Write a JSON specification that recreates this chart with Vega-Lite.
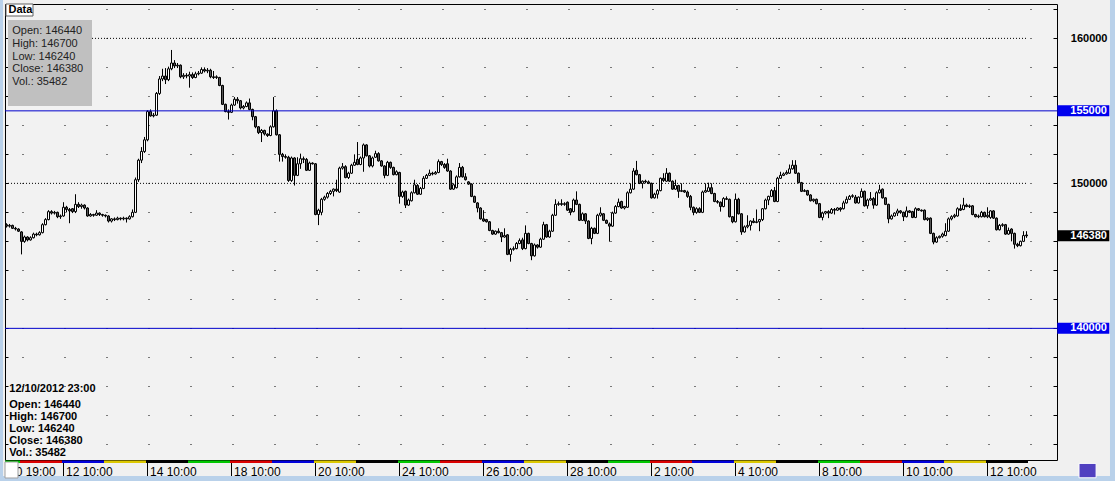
{
"$schema":"https://vega.github.io/schema/vega-lite/v6.json",
"width":1052,"height":456,
"autosize":{"type":"none"},
"padding":{"left":5,"top":4,"right":58,"bottom":21},
"background":"#F0F0F0",
"config":{"view":{"fill":"#F2F2F2","stroke":"#000000","strokeWidth":1},"font":"Liberation Sans","scale":{"continuousPadding":0}},
"resolve":{"axis":{"x":"independent","y":"independent"}},
"data":{"values":[
{"i":0,"o":147150,"h":147250,"l":146950,"c":147050},
{"i":1,"o":147050,"h":147200,"l":146950,"c":147100},
{"i":2,"o":147100,"h":147150,"l":146850,"c":146900},
{"i":3,"o":146900,"h":147000,"l":146750,"c":146850},
{"i":4,"o":146850,"h":146900,"l":146650,"c":146700},
{"i":5,"o":146650,"h":146700,"l":145100,"c":146000},
{"i":6,"o":146000,"h":146400,"l":145900,"c":146300},
{"i":7,"o":146300,"h":146350,"l":146000,"c":146100},
{"i":8,"o":146100,"h":146350,"l":146050,"c":146250},
{"i":9,"o":146250,"h":146600,"l":146200,"c":146500},
{"i":10,"o":146500,"h":146600,"l":146350,"c":146450},
{"i":11,"o":146450,"h":146700,"l":146400,"c":146600},
{"i":12,"o":146600,"h":147250,"l":146550,"c":147150},
{"i":13,"o":147150,"h":147600,"l":147100,"c":147500},
{"i":14,"o":147500,"h":148150,"l":147450,"c":148050},
{"i":15,"o":148050,"h":148150,"l":147850,"c":147950},
{"i":16,"o":147950,"h":148100,"l":147850,"c":148000},
{"i":17,"o":148000,"h":148050,"l":147600,"c":147700},
{"i":18,"o":147700,"h":147850,"l":147550,"c":147750},
{"i":19,"o":147750,"h":148700,"l":147700,"c":148350},
{"i":20,"o":148350,"h":148450,"l":148000,"c":148200},
{"i":21,"o":148200,"h":148300,"l":147250,"c":148100},
{"i":22,"o":148250,"h":148300,"l":147950,"c":148050},
{"i":23,"o":148050,"h":149250,"l":147950,"c":148550},
{"i":24,"o":148550,"h":148700,"l":148300,"c":148400},
{"i":25,"o":148400,"h":148600,"l":148250,"c":148500},
{"i":26,"o":148500,"h":148550,"l":148200,"c":148300},
{"i":27,"o":148300,"h":148350,"l":147700,"c":147750},
{"i":28,"o":147750,"h":147950,"l":147700,"c":147850},
{"i":29,"o":147850,"h":147900,"l":147700,"c":147800},
{"i":30,"o":147800,"h":148150,"l":147750,"c":147950},
{"i":31,"o":147950,"h":148000,"l":147750,"c":147850},
{"i":32,"o":147850,"h":147900,"l":147700,"c":147800},
{"i":33,"o":147800,"h":147850,"l":147650,"c":147750},
{"i":34,"o":147750,"h":147800,"l":147300,"c":147400},
{"i":35,"o":147400,"h":147600,"l":147300,"c":147550},
{"i":36,"o":147550,"h":147650,"l":147400,"c":147500},
{"i":37,"o":147500,"h":147700,"l":147450,"c":147600},
{"i":38,"o":147600,"h":147650,"l":147450,"c":147550},
{"i":39,"o":147550,"h":147700,"l":147450,"c":147600},
{"i":40,"o":147600,"h":147650,"l":147300,"c":147550},
{"i":41,"o":147550,"h":147800,"l":147500,"c":147700},
{"i":42,"o":147700,"h":148200,"l":147650,"c":148000},
{"i":43,"o":148000,"h":150400,"l":147950,"c":150250},
{"i":44,"o":150250,"h":151700,"l":150100,"c":151600},
{"i":45,"o":151600,"h":152500,"l":151400,"c":152200},
{"i":46,"o":152200,"h":153200,"l":152100,"c":153000},
{"i":47,"o":153000,"h":155050,"l":152900,"c":154950},
{"i":48,"o":154950,"h":155100,"l":154600,"c":154650},
{"i":49,"o":154650,"h":154850,"l":154550,"c":154700},
{"i":50,"o":154700,"h":156300,"l":154650,"c":156200},
{"i":51,"o":156200,"h":157400,"l":156100,"c":157200},
{"i":52,"o":157200,"h":157900,"l":157050,"c":157400},
{"i":53,"o":157400,"h":157950,"l":156850,"c":157150},
{"i":54,"o":157150,"h":158050,"l":157050,"c":157900},
{"i":55,"o":157900,"h":159200,"l":157800,"c":158300},
{"i":56,"o":158300,"h":158500,"l":157950,"c":158100},
{"i":57,"o":158100,"h":158300,"l":157950,"c":158150},
{"i":58,"o":158150,"h":158200,"l":157250,"c":157350},
{"i":59,"o":157350,"h":157600,"l":157200,"c":157450},
{"i":60,"o":157450,"h":157600,"l":157250,"c":157400},
{"i":61,"o":157400,"h":157700,"l":156600,"c":157500},
{"i":62,"o":157500,"h":157650,"l":157200,"c":157300},
{"i":63,"o":157300,"h":157700,"l":157250,"c":157550},
{"i":64,"o":157550,"h":157750,"l":157450,"c":157600},
{"i":65,"o":157600,"h":158000,"l":157550,"c":157850},
{"i":66,"o":157850,"h":158000,"l":157650,"c":157750},
{"i":67,"o":157750,"h":157950,"l":157600,"c":157800},
{"i":68,"o":157800,"h":157900,"l":157250,"c":157350},
{"i":69,"o":157350,"h":157750,"l":157200,"c":157300},
{"i":70,"o":157300,"h":157450,"l":157200,"c":157350},
{"i":71,"o":157300,"h":157350,"l":156700,"c":156750},
{"i":72,"o":156750,"h":156800,"l":155400,"c":155450},
{"i":73,"o":155450,"h":155500,"l":154900,"c":154950},
{"i":74,"o":154950,"h":155100,"l":154400,"c":154900},
{"i":75,"o":154900,"h":155500,"l":154850,"c":155400},
{"i":76,"o":155400,"h":155950,"l":155350,"c":155800},
{"i":77,"o":155800,"h":155950,"l":155500,"c":155700},
{"i":78,"o":155700,"h":155750,"l":155100,"c":155200},
{"i":79,"o":155200,"h":155400,"l":155100,"c":155300},
{"i":80,"o":155300,"h":155650,"l":155250,"c":155550},
{"i":81,"o":155550,"h":155850,"l":155050,"c":155100},
{"i":82,"o":155100,"h":155150,"l":154350,"c":154600},
{"i":83,"o":154600,"h":154650,"l":153800,"c":153900},
{"i":84,"o":153900,"h":153950,"l":153400,"c":153500},
{"i":85,"o":153500,"h":153750,"l":152850,"c":153650},
{"i":86,"o":153650,"h":153700,"l":153300,"c":153400},
{"i":87,"o":153400,"h":153450,"l":153200,"c":153300},
{"i":88,"o":153300,"h":154000,"l":153250,"c":153900},
{"i":89,"o":153900,"h":155950,"l":153850,"c":155000},
{"i":90,"o":155000,"h":155100,"l":153300,"c":153350},
{"i":91,"o":153350,"h":153400,"l":151500,"c":152000},
{"i":92,"o":152000,"h":152100,"l":151500,"c":151850},
{"i":93,"o":151850,"h":152000,"l":151700,"c":151800},
{"i":94,"o":151800,"h":151900,"l":150100,"c":150200},
{"i":95,"o":150200,"h":151850,"l":150100,"c":151750},
{"i":96,"o":151750,"h":151800,"l":149850,"c":150550},
{"i":97,"o":150550,"h":151800,"l":150500,"c":151350},
{"i":98,"o":151350,"h":152050,"l":151000,"c":151700},
{"i":99,"o":151700,"h":151850,"l":151400,"c":151650},
{"i":100,"o":151650,"h":151750,"l":150850,"c":150900},
{"i":101,"o":150900,"h":151500,"l":150850,"c":151400},
{"i":102,"o":151400,"h":151450,"l":151300,"c":151350},
{"i":103,"o":151350,"h":151400,"l":147800,"c":147850},
{"i":104,"o":147850,"h":148250,"l":147120,"c":148150},
{"i":105,"o":148000,"h":149000,"l":147800,"c":148900},
{"i":106,"o":148900,"h":149150,"l":148800,"c":149050},
{"i":107,"o":149050,"h":149400,"l":148950,"c":149300},
{"i":108,"o":149300,"h":149550,"l":149200,"c":149450},
{"i":109,"o":149450,"h":149650,"l":149100,"c":149600},
{"i":110,"o":149600,"h":150250,"l":149400,"c":149500},
{"i":111,"o":149400,"h":151150,"l":149350,"c":151050},
{"i":112,"o":151050,"h":151400,"l":150950,"c":151150},
{"i":113,"o":151150,"h":151250,"l":150350,"c":150400},
{"i":114,"o":150400,"h":150800,"l":150300,"c":150700},
{"i":115,"o":150700,"h":151350,"l":150650,"c":151250},
{"i":116,"o":151250,"h":152000,"l":151200,"c":151450},
{"i":117,"o":151650,"h":152850,"l":151250,"c":151300},
{"i":118,"o":151300,"h":151850,"l":151250,"c":151750},
{"i":119,"o":151750,"h":152750,"l":150800,"c":152650},
{"i":120,"o":152650,"h":152700,"l":151850,"c":151900},
{"i":121,"o":151900,"h":151950,"l":151100,"c":151200},
{"i":122,"o":151200,"h":151850,"l":151100,"c":151750},
{"i":123,"o":151800,"h":152250,"l":151750,"c":152050},
{"i":124,"o":152050,"h":152150,"l":151500,"c":151550},
{"i":125,"o":151550,"h":151600,"l":151150,"c":151200},
{"i":126,"o":151200,"h":151250,"l":150350,"c":150550},
{"i":127,"o":150550,"h":151550,"l":150500,"c":151450},
{"i":128,"o":151450,"h":151500,"l":151000,"c":151100},
{"i":129,"o":151100,"h":151150,"l":150550,"c":150600},
{"i":130,"o":150600,"h":150900,"l":150550,"c":150800},
{"i":131,"o":150750,"h":150800,"l":148600,"c":149100},
{"i":132,"o":149100,"h":149500,"l":149000,"c":149400},
{"i":133,"o":149450,"h":149500,"l":148300,"c":148500},
{"i":134,"o":148500,"h":148950,"l":148450,"c":148850},
{"i":135,"o":148800,"h":149450,"l":148750,"c":149350},
{"i":136,"o":149350,"h":150250,"l":149300,"c":149900},
{"i":137,"o":149850,"h":149950,"l":149200,"c":149250},
{"i":138,"o":149250,"h":149750,"l":149200,"c":149650},
{"i":139,"o":149650,"h":150500,"l":149600,"c":150350},
{"i":140,"o":150350,"h":150650,"l":150300,"c":150550},
{"i":141,"o":150550,"h":150950,"l":150500,"c":150700},
{"i":142,"o":150700,"h":150800,"l":150550,"c":150650},
{"i":143,"o":150650,"h":150850,"l":150600,"c":150750},
{"i":144,"o":150750,"h":151650,"l":150700,"c":151500},
{"i":145,"o":151500,"h":151550,"l":151200,"c":151300},
{"i":146,"o":151300,"h":151400,"l":151000,"c":151100},
{"i":147,"o":151350,"h":151700,"l":150800,"c":150850},
{"i":148,"o":150850,"h":150900,"l":149550,"c":149600},
{"i":149,"o":149600,"h":150000,"l":149550,"c":149900},
{"i":150,"o":149700,"h":150550,"l":149650,"c":150450},
{"i":151,"o":150450,"h":151400,"l":150400,"c":151100},
{"i":152,"o":151100,"h":151200,"l":150400,"c":150450},
{"i":153,"o":150450,"h":150700,"l":150200,"c":150250},
{"i":154,"o":150100,"h":150150,"l":149900,"c":149950},
{"i":155,"o":149950,"h":150000,"l":149050,"c":149100},
{"i":156,"o":149100,"h":149150,"l":148650,"c":148700},
{"i":157,"o":148650,"h":148700,"l":148000,"c":148300},
{"i":158,"o":148300,"h":148350,"l":147500,"c":147550},
{"i":159,"o":147550,"h":148150,"l":147350,"c":147400},
{"i":160,"o":147500,"h":147550,"l":147300,"c":147350},
{"i":161,"o":147350,"h":147400,"l":146700,"c":146750},
{"i":162,"o":146750,"h":146800,"l":146450,"c":146500},
{"i":163,"o":146500,"h":146750,"l":146450,"c":146700},
{"i":164,"o":146700,"h":146900,"l":146550,"c":146600},
{"i":165,"o":146600,"h":146650,"l":145950,"c":146300},
{"i":166,"o":146300,"h":146900,"l":146250,"c":146400},
{"i":167,"o":146450,"h":146500,"l":145050,"c":145100},
{"i":168,"o":145100,"h":145550,"l":144600,"c":145450},
{"i":169,"o":145450,"h":145650,"l":145350,"c":145500},
{"i":170,"o":145500,"h":145950,"l":145450,"c":145850},
{"i":171,"o":145850,"h":146200,"l":145800,"c":146050},
{"i":172,"o":146100,"h":146250,"l":145400,"c":145500},
{"i":173,"o":145500,"h":147100,"l":145450,"c":146550},
{"i":174,"o":146550,"h":146600,"l":145800,"c":145850},
{"i":175,"o":145850,"h":145900,"l":144700,"c":145000},
{"i":176,"o":145000,"h":145850,"l":144950,"c":145750},
{"i":177,"o":145750,"h":145800,"l":145500,"c":145600},
{"i":178,"o":145600,"h":146250,"l":145550,"c":146150},
{"i":179,"o":146150,"h":147350,"l":146100,"c":147150},
{"i":180,"o":147150,"h":147200,"l":146250,"c":146300},
{"i":181,"o":146300,"h":146800,"l":146250,"c":146700},
{"i":182,"o":146700,"h":147900,"l":146650,"c":147800},
{"i":183,"o":147800,"h":148900,"l":147750,"c":148550},
{"i":184,"o":148550,"h":148750,"l":148450,"c":148600},
{"i":185,"o":148600,"h":148900,"l":148450,"c":148550},
{"i":186,"o":148550,"h":148700,"l":148450,"c":148600},
{"i":187,"o":148700,"h":148750,"l":148100,"c":148150},
{"i":188,"o":148250,"h":148300,"l":147800,"c":148000},
{"i":189,"o":148050,"h":148950,"l":148000,"c":148850},
{"i":190,"o":148850,"h":149450,"l":148500,"c":148550},
{"i":191,"o":148550,"h":148600,"l":147400,"c":147450},
{"i":192,"o":147450,"h":148000,"l":147400,"c":147900},
{"i":193,"o":147900,"h":147950,"l":147200,"c":147400},
{"i":194,"o":147400,"h":147450,"l":146150,"c":146200},
{"i":195,"o":146200,"h":147000,"l":145800,"c":146900},
{"i":196,"o":146900,"h":146950,"l":146500,"c":146550},
{"i":197,"o":146550,"h":147900,"l":146500,"c":147800},
{"i":198,"o":147800,"h":148350,"l":147700,"c":147950},
{"i":199,"o":147900,"h":147950,"l":147400,"c":147450},
{"i":200,"o":147450,"h":147500,"l":147200,"c":147250},
{"i":201,"o":147200,"h":147300,"l":145980,"c":147050},
{"i":202,"o":147050,"h":148050,"l":147000,"c":147950},
{"i":203,"o":147950,"h":148500,"l":147900,"c":148400},
{"i":204,"o":148400,"h":148950,"l":148350,"c":148700},
{"i":205,"o":148750,"h":148800,"l":148250,"c":148300},
{"i":206,"o":148300,"h":148450,"l":148200,"c":148400},
{"i":207,"o":148350,"h":149450,"l":148300,"c":149350},
{"i":208,"o":149350,"h":150000,"l":149300,"c":149600},
{"i":209,"o":149600,"h":151050,"l":149550,"c":150850},
{"i":210,"o":150900,"h":151550,"l":150550,"c":150600},
{"i":211,"o":150600,"h":150650,"l":149950,"c":150000},
{"i":212,"o":150000,"h":150200,"l":149650,"c":150150},
{"i":213,"o":150150,"h":150250,"l":150000,"c":150100},
{"i":214,"o":150100,"h":150200,"l":149950,"c":150000},
{"i":215,"o":150000,"h":150050,"l":148950,"c":149000},
{"i":216,"o":149000,"h":149350,"l":148950,"c":149250},
{"i":217,"o":149250,"h":149600,"l":148950,"c":149500},
{"i":218,"o":149500,"h":150400,"l":149450,"c":150350},
{"i":219,"o":150350,"h":150700,"l":150100,"c":150200},
{"i":220,"o":150150,"h":151050,"l":150100,"c":150700},
{"i":221,"o":150700,"h":150750,"l":150100,"c":150150},
{"i":222,"o":150150,"h":150200,"l":149550,"c":149600},
{"i":223,"o":149600,"h":150250,"l":149550,"c":149850},
{"i":224,"o":149850,"h":149900,"l":149000,"c":149450},
{"i":225,"o":149450,"h":150000,"l":149400,"c":149500},
{"i":226,"o":149500,"h":149550,"l":149350,"c":149400},
{"i":227,"o":149400,"h":149500,"l":149000,"c":149100},
{"i":228,"o":149100,"h":149200,"l":148150,"c":148350},
{"i":229,"o":148350,"h":148400,"l":147800,"c":148000},
{"i":230,"o":148000,"h":148350,"l":147900,"c":148250},
{"i":231,"o":148250,"h":148350,"l":147950,"c":148000},
{"i":232,"o":148000,"h":149500,"l":147950,"c":149400},
{"i":233,"o":149400,"h":150000,"l":149350,"c":149500},
{"i":234,"o":149450,"h":150050,"l":149400,"c":149700},
{"i":235,"o":149700,"h":150000,"l":149250,"c":149300},
{"i":236,"o":149300,"h":149350,"l":148700,"c":148750},
{"i":237,"o":148750,"h":148850,"l":148600,"c":148700},
{"i":238,"o":148700,"h":148750,"l":148050,"c":148400},
{"i":239,"o":148400,"h":149050,"l":148350,"c":148950},
{"i":240,"o":148950,"h":149100,"l":148850,"c":148900},
{"i":241,"o":148900,"h":148950,"l":147650,"c":147700},
{"i":242,"o":147700,"h":147750,"l":147250,"c":147350},
{"i":243,"o":147350,"h":149300,"l":147300,"c":148900},
{"i":244,"o":148900,"h":149000,"l":147850,"c":147900},
{"i":245,"o":147900,"h":147950,"l":146450,"c":146650},
{"i":246,"o":146650,"h":147100,"l":146600,"c":147000},
{"i":247,"o":147000,"h":147800,"l":146900,"c":147100},
{"i":248,"o":147100,"h":147450,"l":146750,"c":147400},
{"i":249,"o":147400,"h":147600,"l":147250,"c":147300},
{"i":250,"o":147300,"h":148200,"l":147250,"c":147350},
{"i":251,"o":147350,"h":147550,"l":146700,"c":147500},
{"i":252,"o":147500,"h":148300,"l":147400,"c":148250},
{"i":253,"o":148250,"h":148950,"l":148200,"c":148850},
{"i":254,"o":148850,"h":149150,"l":148500,"c":149100},
{"i":255,"o":149100,"h":149600,"l":149050,"c":149500},
{"i":256,"o":149500,"h":149750,"l":148700,"c":148750},
{"i":257,"o":148750,"h":150450,"l":148700,"c":150350},
{"i":258,"o":150350,"h":150800,"l":150300,"c":150550},
{"i":259,"o":150550,"h":150750,"l":150500,"c":150650},
{"i":260,"o":150650,"h":150900,"l":150600,"c":150750},
{"i":261,"o":150700,"h":151300,"l":150650,"c":151000},
{"i":262,"o":151000,"h":151600,"l":150950,"c":151250},
{"i":263,"o":151250,"h":151600,"l":150650,"c":150700},
{"i":264,"o":150700,"h":150750,"l":150000,"c":150050},
{"i":265,"o":150050,"h":150100,"l":149400,"c":149450},
{"i":266,"o":149450,"h":149600,"l":149400,"c":149500},
{"i":267,"o":149500,"h":149550,"l":149150,"c":149200},
{"i":268,"o":149200,"h":149250,"l":148750,"c":148800},
{"i":269,"o":148800,"h":148950,"l":148700,"c":148900},
{"i":270,"o":148900,"h":148950,"l":148550,"c":148600},
{"i":271,"o":148600,"h":148650,"l":147600,"c":147650},
{"i":272,"o":147650,"h":148050,"l":147450,"c":147950},
{"i":273,"o":147950,"h":148100,"l":147850,"c":148050},
{"i":274,"o":148050,"h":148150,"l":147600,"c":147950},
{"i":275,"o":147950,"h":148300,"l":147900,"c":148200},
{"i":276,"o":148200,"h":148300,"l":147850,"c":148150},
{"i":277,"o":148150,"h":148350,"l":148100,"c":148300},
{"i":278,"o":148300,"h":148350,"l":148050,"c":148200},
{"i":279,"o":148250,"h":148800,"l":148200,"c":148650},
{"i":280,"o":148650,"h":149100,"l":148600,"c":148900},
{"i":281,"o":148900,"h":149200,"l":148850,"c":149100},
{"i":282,"o":149100,"h":149250,"l":149000,"c":149150},
{"i":283,"o":149050,"h":149200,"l":148600,"c":148650},
{"i":284,"o":148650,"h":149100,"l":148600,"c":149050},
{"i":285,"o":149050,"h":149650,"l":149000,"c":149450},
{"i":286,"o":149450,"h":149500,"l":148400,"c":148450},
{"i":287,"o":148450,"h":148950,"l":148250,"c":148850},
{"i":288,"o":148850,"h":149400,"l":148800,"c":148950},
{"i":289,"o":148950,"h":149050,"l":148250,"c":148500},
{"i":290,"o":148500,"h":149450,"l":148450,"c":149350},
{"i":291,"o":149350,"h":149900,"l":149300,"c":149550},
{"i":292,"o":149600,"h":149650,"l":148950,"c":149000},
{"i":293,"o":149000,"h":149050,"l":148500,"c":148550},
{"i":294,"o":148550,"h":148600,"l":147250,"c":147550},
{"i":295,"o":147550,"h":147850,"l":147500,"c":147750},
{"i":296,"o":147750,"h":148000,"l":147700,"c":147950},
{"i":297,"o":147950,"h":148250,"l":147750,"c":148100},
{"i":298,"o":148100,"h":148150,"l":147900,"c":148000},
{"i":299,"o":148000,"h":148050,"l":147400,"c":147700},
{"i":300,"o":147700,"h":148400,"l":147650,"c":148100},
{"i":301,"o":148100,"h":148150,"l":147950,"c":148000},
{"i":302,"o":148050,"h":148100,"l":147600,"c":147650},
{"i":303,"o":147650,"h":148350,"l":147600,"c":148250},
{"i":304,"o":148250,"h":148300,"l":148100,"c":148150},
{"i":305,"o":148150,"h":148200,"l":148050,"c":148100},
{"i":306,"o":148150,"h":148200,"l":147450,"c":147500},
{"i":307,"o":147500,"h":147650,"l":147400,"c":147600},
{"i":308,"o":147600,"h":147650,"l":146500,"c":146550},
{"i":309,"o":146550,"h":146600,"l":145800,"c":145950},
{"i":310,"o":145950,"h":146350,"l":145900,"c":146250},
{"i":311,"o":146250,"h":146400,"l":146200,"c":146350},
{"i":312,"o":146350,"h":146600,"l":146250,"c":146500},
{"i":313,"o":146400,"h":147250,"l":146350,"c":146700},
{"i":314,"o":146700,"h":147650,"l":146650,"c":147550},
{"i":315,"o":147550,"h":147800,"l":147450,"c":147700},
{"i":316,"o":147700,"h":147900,"l":147600,"c":147800},
{"i":317,"o":147750,"h":148350,"l":147700,"c":148250},
{"i":318,"o":148250,"h":148550,"l":148100,"c":148150},
{"i":319,"o":148200,"h":149000,"l":148150,"c":148500},
{"i":320,"o":148500,"h":148600,"l":148350,"c":148400},
{"i":321,"o":148400,"h":148550,"l":148300,"c":148450},
{"i":322,"o":148450,"h":148500,"l":147800,"c":147850},
{"i":323,"o":147850,"h":147900,"l":147650,"c":147700},
{"i":324,"o":147700,"h":147850,"l":147600,"c":147750},
{"i":325,"o":147700,"h":148100,"l":147650,"c":148000},
{"i":326,"o":148000,"h":148050,"l":147650,"c":147700},
{"i":327,"o":147700,"h":148350,"l":147600,"c":147800},
{"i":328,"o":147650,"h":148150,"l":147550,"c":148100},
{"i":329,"o":148100,"h":148150,"l":147550,"c":147600},
{"i":330,"o":147600,"h":147650,"l":146750,"c":146800},
{"i":331,"o":146800,"h":147200,"l":146750,"c":147100},
{"i":332,"o":147100,"h":147250,"l":147000,"c":147150},
{"i":333,"o":147150,"h":147200,"l":146450,"c":146500},
{"i":334,"o":146500,"h":146950,"l":146450,"c":146750},
{"i":335,"o":146850,"h":146900,"l":146000,"c":146550},
{"i":336,"o":146550,"h":146600,"l":145500,"c":145800},
{"i":337,"o":145800,"h":145900,"l":145600,"c":145700},
{"i":338,"o":145700,"h":146050,"l":145650,"c":146000},
{"i":339,"o":146000,"h":146700,"l":145950,"c":146400},
{"i":340,"o":146440,"h":146700,"l":146240,"c":146380}
]},
"layer":[
{"data":{"values":[
{"wd":"Mon","from":-0.5,"to":4.5},{"wd":"Tue","from":4.5,"to":18.5},{"wd":"Wed","from":18.5,"to":32.5},{"wd":"Thu","from":32.5,"to":46.5},{"wd":"Fri","from":46.5,"to":60.5},
{"wd":"Mon","from":60.5,"to":74.5},{"wd":"Tue","from":74.5,"to":88.5},{"wd":"Wed","from":88.5,"to":102.5},{"wd":"Thu","from":102.5,"to":116.5},{"wd":"Fri","from":116.5,"to":130.5},
{"wd":"Mon","from":130.5,"to":144.5},{"wd":"Tue","from":144.5,"to":158.5},{"wd":"Wed","from":158.5,"to":172.5},{"wd":"Thu","from":172.5,"to":186.5},{"wd":"Fri","from":186.5,"to":200.5},
{"wd":"Mon","from":200.5,"to":214.5},{"wd":"Tue","from":214.5,"to":228.5},{"wd":"Wed","from":228.5,"to":242.5},{"wd":"Thu","from":242.5,"to":256.5},{"wd":"Fri","from":256.5,"to":270.5},
{"wd":"Mon","from":270.5,"to":284.5},{"wd":"Tue","from":284.5,"to":298.5},{"wd":"Wed","from":298.5,"to":312.5},{"wd":"Thu","from":312.5,"to":326.5},{"wd":"Fri","from":326.5,"to":340.5}
]},
 "mark":{"type":"rect"},
 "encoding":{
  "x":{"field":"from","type":"quantitative","scale":{"domain":[-0.5,350.16667],"nice":false,"zero":false,"padding":0},
       "axis":{"orient":"bottom","values":[0,19,47,75,103,131,159,187,215,243,271,299,327],
               "labelExpr":"datum.value==0?'10 19:00':datum.value==19?'12 10:00':datum.value==47?'14 10:00':datum.value==75?'18 10:00':datum.value==103?'20 10:00':datum.value==131?'24 10:00':datum.value==159?'26 10:00':datum.value==187?'28 10:00':datum.value==215?'2 10:00':datum.value==243?'4 10:00':datum.value==271?'8 10:00':datum.value==299?'10 10:00':'12 10:00'",
               "ticks":true,"tickSize":17,"tickColor":"#000000","tickWidth":1,"domain":false,"grid":false,
               "labelAlign":"left","labelBaseline":"top","labelPadding":-11,"labelOffset":2,
               "labelFont":"Liberation Sans","labelFontSize":12,"labelColor":"#000000",
               "labelOverlap":false,"labelFlush":false,"labelBound":false,"title":null,"zindex":0}},
  "x2":{"field":"to"},
  "y":{"datum":130880,"type":"quantitative","scale":{"domain":[130920,162370],"nice":false,"zero":false,"padding":0},"axis":null},
  "y2":{"datum":130710},
  "color":{"field":"wd","type":"nominal","scale":{"domain":["Mon","Tue","Wed","Thu","Fri"],"range":["#00C800","#DC0000","#0000DC","#DCC800","#000000"]},"legend":null}
 }},
{"data":{"values":[{}]},
 "mark":{"type":"rect","fill":"#B9D1EA"},
 "encoding":{
  "x":{"datum":-3,"type":"quantitative","axis":null},
  "x2":{"datum":-1.17},
  "y":{"datum":162800,"type":"quantitative","axis":null},
  "y2":{"datum":129300}
 }},
{"data":{"values":[{}]},
 "mark":{"type":"rect","fill":"#B9D1EA"},
 "encoding":{
  "x":{"datum":-3,"type":"quantitative","axis":null},
  "x2":{"datum":372},
  "y":{"datum":129817,"type":"quantitative","axis":null},
  "y2":{"datum":129300}
 }},
{"data":{"values":[{}]},
 "mark":{"type":"rect","fill":"#B9D1EA"},
 "encoding":{
  "x":{"datum":367.83,"type":"quantitative","axis":null},
  "x2":{"datum":372},
  "y":{"datum":162800,"type":"quantitative","axis":null},
  "y2":{"datum":129300}
 }},
{"data":{"values":[{}]},
 "mark":{"type":"rect","fill":"#FFFFFF","stroke":"#A0A0A0","strokeWidth":1},
 "encoding":{
  "x":{"datum":-0.5,"type":"quantitative","axis":null},
  "x2":{"datum":3.83},
  "y":{"datum":130782,"type":"quantitative","axis":null},
  "y2":{"datum":129679}
 }},
{"data":{"values":[{}]},
 "mark":{"type":"rect","fill":"#5040C0","stroke":"#FFFFFF","strokeWidth":1},
 "encoding":{
  "x":{"datum":357.5,"type":"quantitative","axis":null},
  "x2":{"datum":363.2},
  "y":{"datum":130687,"type":"quantitative","axis":null},
  "y2":{"datum":129694}
 }},
{"data":{"values":[{"v":160000},{"v":150000}]},
 "mark":{"type":"rule","color":"#000000","strokeWidth":1,"strokeDash":[1,2]},
 "encoding":{
  "x":{"datum":-0.5,"type":"quantitative","axis":null},
  "x2":{"datum":340.5},
  "y":{"field":"v","type":"quantitative",
       "axis":{"orient":"left","offset":-3,"values":[132000,134000,136000,138000,140000,142000,144000,146000,148000,150000,152000,154000,156000,158000,160000,162000],"tickSize":3,"tickColor":"#000000","labels":false,"domain":false,"grid":false,"title":null}}
 }},
{"mark":{"type":"rule","color":"#000000","strokeWidth":1},
 "encoding":{
  "x":{"field":"i","type":"quantitative","axis":null},
  "y":{"field":"l","type":"quantitative",
       "axis":{"orient":"left","values":[132000,134000,136000,138000,140000,142000,144000,146000,148000,150000,152000,154000,156000,158000,160000,162000],"ticks":false,"labels":false,"domain":false,"grid":true,"gridColor":"#000000","gridOpacity":1,"gridWidth":1,"gridDash":[1,41],"gridDashOffset":25,"title":null}},
  "y2":{"field":"h"}
 }},
{"mark":{"type":"bar","size":2,"stroke":"#000000","strokeWidth":1},
 "encoding":{
  "x":{"field":"i","type":"quantitative","axis":null},
  "y":{"field":"o","type":"quantitative",
       "axis":{"orient":"right","offset":-4,"values":[132000,134000,136000,138000,140000,142000,144000,146000,148000,150000,152000,154000,156000,158000,160000,162000],
               "tickSize":4,"tickColor":"#000000","domain":false,"grid":false,
               "labelExpr":"datum.value==160000||datum.value==150000?format(datum.value,'d'):''",
               "labelAlign":"right","labelBaseline":"middle","labelPadding":50,
               "labelFont":"Liberation Sans","labelFontSize":11,"labelFontWeight":"bold","labelColor":"#000000",
               "labelOverlap":false,"labelBound":false,"labelFlush":false,"title":null}},
  "y2":{"field":"c"},
  "fill":{"condition":{"test":"datum.c < datum.o","value":"#555555"},"value":"#FFFFFF"}
 }},
{"data":{"values":[{"v":155000},{"v":140000}]},
 "mark":{"type":"rule","color":"#0000CC","strokeWidth":1},
 "encoding":{
  "y":{"field":"v","type":"quantitative","axis":null}
 }},
{"data":{"values":[{}]},
 "mark":{"type":"rect","fill":"#C0C0C0"},
 "encoding":{
  "x":{"datum":0.5,"type":"quantitative","axis":null},
  "x2":{"datum":28.5},
  "y":{"datum":161267,"type":"quantitative","axis":null},
  "y2":{"datum":155335}
 }},
{"data":{"values":[{}]},
 "mark":{"type":"text","text":["Open: 146440","High: 146700","Low: 146240","Close: 146380","Vol.: 35482"],"align":"left","baseline":"middle","lineHeight":12.8,"font":"Liberation Sans","fontSize":11,"color":"#222222"},
 "encoding":{
  "x":{"datum":1.93,"type":"quantitative","axis":null},
  "y":{"datum":160508,"type":"quantitative","axis":null}
 }},
{"data":{"values":[{"v":155000},{"v":140000}]},
 "mark":{"type":"tick","orient":"horizontal","size":52,"thickness":11,"color":"#0000EE","opacity":1},
 "encoding":{
  "x":{"datum":358.93,"type":"quantitative","axis":null},
  "y":{"field":"v","type":"quantitative","axis":null}
 }},
{"data":{"values":[{"v":146380}]},
 "mark":{"type":"tick","orient":"horizontal","size":52,"thickness":11,"color":"#000000","opacity":1},
 "encoding":{
  "x":{"datum":358.93,"type":"quantitative","axis":null},
  "y":{"field":"v","type":"quantitative","axis":null}
 }},
{"data":{"values":[{"v":155000},{"v":146380},{"v":140000}]},
 "mark":{"type":"text","align":"right","baseline":"middle","font":"Liberation Sans","fontSize":11,"fontWeight":"bold","color":"#FFFFFF"},
 "encoding":{
  "x":{"datum":366.83,"type":"quantitative","axis":null},
  "y":{"field":"v","type":"quantitative","axis":null},
  "text":{"field":"v","type":"quantitative","format":"d"}
 }},
{"data":{"values":[{}]},
 "mark":{"type":"text","text":"12/10/2012 23:00","align":"left","baseline":"middle","font":"Liberation Sans","fontSize":11,"fontWeight":"bold","color":"#000000"},
 "encoding":{
  "x":{"datum":0.93,"type":"quantitative","axis":null},
  "y":{"datum":135818,"type":"quantitative","axis":null}
 }},
{"data":{"values":[{}]},
 "mark":{"type":"text","text":["Open: 146440","High: 146700","Low: 146240","Close: 146380","Vol.: 35482"],"align":"left","baseline":"middle","lineHeight":11.9,"font":"Liberation Sans","fontSize":11,"fontWeight":"bold","color":"#000000"},
 "encoding":{
  "x":{"datum":0.93,"type":"quantitative","axis":null},
  "y":{"datum":134713,"type":"quantitative","axis":null}
 }},
{"data":{"values":[{}]},
 "mark":{"type":"rect","fill":"#FFFFFF","stroke":"#606060","strokeWidth":1},
 "encoding":{
  "x":{"datum":-0.17,"type":"quantitative","axis":null},
  "x2":{"datum":8.83},
  "y":{"datum":162370,"type":"quantitative","axis":null},
  "y2":{"datum":161542}
 }},
{"data":{"values":[{}]},
 "mark":{"type":"text","text":"Data","align":"left","baseline":"middle","font":"Liberation Sans","fontSize":11,"fontWeight":"bold","color":"#000000"},
 "encoding":{
  "x":{"datum":0.67,"type":"quantitative","axis":null},
  "y":{"datum":161956,"type":"quantitative","axis":null}
 }}
]
}
